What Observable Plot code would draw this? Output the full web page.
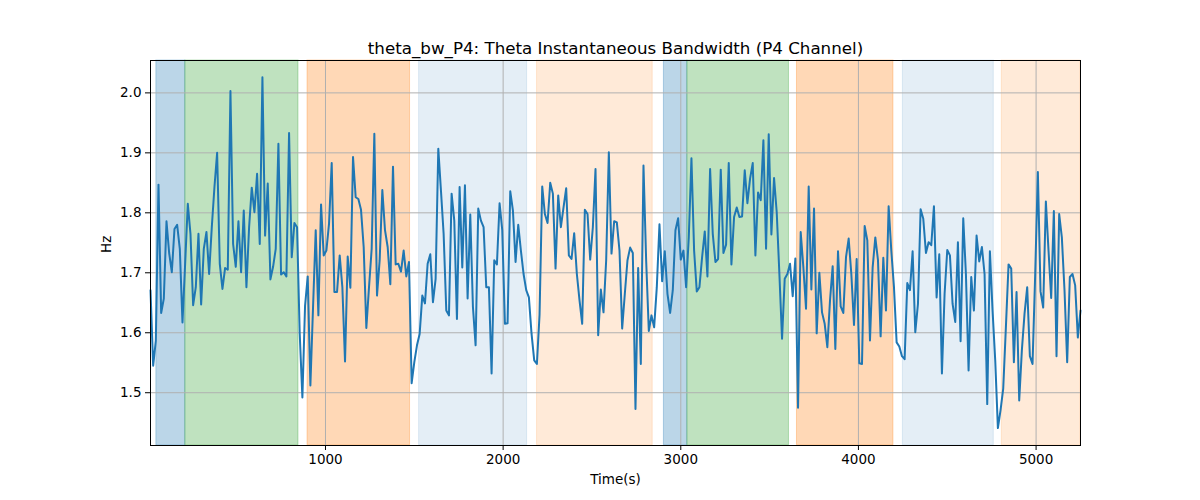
<!DOCTYPE html>
<html><head><meta charset="utf-8">
<script src="https://cdn.jsdelivr.net/npm/d3@7"></script>
<script src="https://cdn.jsdelivr.net/npm/@observablehq/plot@0.6"></script>
<style>body{margin:0;background:#fff}</style>
</head><body><div id="chart"></div>
<script>
const titleText = "theta_bw_P4: Theta Instantaneous Bandwidth (P4 Channel)";
const xLabel = "Time(s)";
const yLabel = "Hz";
const T0 = 15, STEP = 15;
const bandwidth = [
1.671,1.545,1.587,1.847,1.633,1.657,1.786,1.733,1.701,1.773,
1.780,1.740,1.617,1.715,1.815,1.765,1.646,1.676,1.765,1.647,
1.740,1.768,1.698,1.776,1.843,1.900,1.715,1.673,1.708,1.705,
2.003,1.748,1.710,1.786,1.701,1.804,1.676,1.776,1.842,1.801,
1.865,1.748,2.026,1.762,1.849,1.689,1.710,1.740,1.915,1.697,
1.701,1.694,1.933,1.726,1.783,1.776,1.598,1.492,1.645,1.694,
1.512,1.643,1.771,1.629,1.814,1.729,1.737,1.782,1.883,1.668,
1.668,1.729,1.676,1.552,1.727,1.675,1.893,1.826,1.823,1.805,
1.743,1.608,1.676,1.740,1.932,1.662,1.721,1.838,1.771,1.743,
1.681,1.877,1.714,1.715,1.702,1.737,1.694,1.718,1.516,1.551,
1.579,1.598,1.662,1.649,1.715,1.731,1.651,1.690,1.907,1.837,
1.765,1.637,1.629,1.832,1.787,1.623,1.843,1.709,1.846,1.657,
1.797,1.643,1.579,1.807,1.787,1.776,1.676,1.676,1.532,1.721,
1.714,1.816,1.771,1.615,1.616,1.836,1.804,1.718,1.780,1.737,
1.698,1.671,1.659,1.598,1.554,1.548,1.630,1.844,1.798,1.783,
1.850,1.832,1.707,1.829,1.776,1.809,1.841,1.729,1.723,1.766,
1.698,1.654,1.615,1.805,1.798,1.722,1.776,1.873,1.596,1.672,
1.634,1.721,1.901,1.732,1.786,1.784,1.737,1.607,1.665,1.721,
1.742,1.733,1.473,1.708,1.548,1.879,1.721,1.603,1.629,1.609,
1.676,1.781,1.686,1.736,1.665,1.633,1.671,1.771,1.791,1.722,
1.737,1.676,1.759,1.891,1.737,1.669,1.676,1.726,1.769,1.694,
1.873,1.765,1.718,1.723,1.872,1.733,1.747,1.883,1.714,1.793,
1.809,1.793,1.794,1.871,1.816,1.857,1.883,1.729,1.834,1.821,
1.921,1.740,1.931,1.764,1.858,1.801,1.698,1.590,1.690,1.698,
1.715,1.661,1.724,1.475,1.768,1.709,1.640,1.844,1.672,1.807,
1.599,1.700,1.634,1.615,1.576,1.654,1.711,1.573,1.736,1.644,
1.633,1.726,1.757,1.698,1.613,1.723,1.549,1.548,1.778,1.754,
1.587,1.709,1.759,1.721,1.594,1.725,1.637,1.811,1.737,1.676,
1.584,1.577,1.561,1.556,1.683,1.671,1.736,1.601,1.648,1.806,
1.790,1.733,1.751,1.746,1.811,1.659,1.731,1.532,1.665,1.738,
1.729,1.648,1.618,1.751,1.586,1.791,1.698,1.537,1.693,1.637,
1.762,1.719,1.743,1.698,1.481,1.736,1.637,1.554,1.441,1.471,
1.507,1.609,1.714,1.707,1.551,1.668,1.487,1.571,1.632,1.676,
1.561,1.548,1.698,1.868,1.669,1.642,1.819,1.737,1.658,1.803,
1.561,1.798,1.759,1.671,1.551,1.693,1.698,1.679,1.592,1.637
];
const spanStart = [48, 211, 899, 1527, 2191, 2905, 3037, 3654, 4250, 4807];
const spanEnd   = [211, 848, 1476, 2135, 2842, 3037, 3609, 4197, 4762, 5250];
const spanColor = ["#1f77b4","#2ca02c","#ff7f0e","#1f77b4","#ff7f0e","#1f77b4","#2ca02c","#ff7f0e","#1f77b4","#ff7f0e"];
const spanAlpha = [0.3, 0.3, 0.3, 0.12, 0.16, 0.3, 0.3, 0.3, 0.12, 0.16];
const xTicks = [1000, 2000, 3000, 4000, 5000];
const yTicks = [1.5, 1.6, 1.7, 1.8, 1.9, 2.0];

const points = bandwidth.map((v, i) => ({t: T0 + i * STEP, v}));
const spans = spanStart.map((s, i) => ({start: s, end: spanEnd[i], color: spanColor[i], alpha: spanAlpha[i]}));
const xDomain = d3.extent(points, d => d.t);

const chart = Plot.plot({
  width: 1200, height: 500,
  marginLeft: 150, marginRight: 120, marginTop: 60, marginBottom: 55,
  style: {fontFamily: "DejaVu Sans", fontSize: "13.5px", background: "white", color: "black"},
  x: {domain: xDomain},
  y: {domain: [1.412, 2.054]},
  color: {type: "identity"},
  marks: [
    Plot.rect(spans, {x1: "start", x2: "end", fill: "color", fillOpacity: "alpha", stroke: "color", strokeOpacity: "alpha", strokeWidth: 1}),
    Plot.gridX(xTicks, {stroke: "#b0b0b0", strokeOpacity: 1, strokeWidth: 1}),
    Plot.gridY(yTicks, {stroke: "#b0b0b0", strokeOpacity: 1, strokeWidth: 1}),
    Plot.line(points, {x: "t", y: "v", stroke: "#1f77b4", strokeWidth: 2}),
    Plot.frame({stroke: "black", strokeWidth: 1}),
    Plot.axisX(xTicks, {tickSize: 5, tickPadding: 4, label: null, tickFormat: d => String(d)}),
    Plot.axisY(yTicks, {tickSize: 5, tickPadding: 4, label: null, tickFormat: d3.format(".1f")}),
    Plot.text([titleText], {frameAnchor: "top", dy: -18, fontSize: 16.7, fill: "black"}),
    Plot.text([xLabel], {frameAnchor: "bottom", dy: 38, fontSize: 13.5, fill: "black"}),
    Plot.text([yLabel], {frameAnchor: "left", dx: -44, rotate: -90, fontSize: 13.5, fill: "black"})
  ]
});
document.getElementById("chart").appendChild(chart);
</script>
</body></html>
